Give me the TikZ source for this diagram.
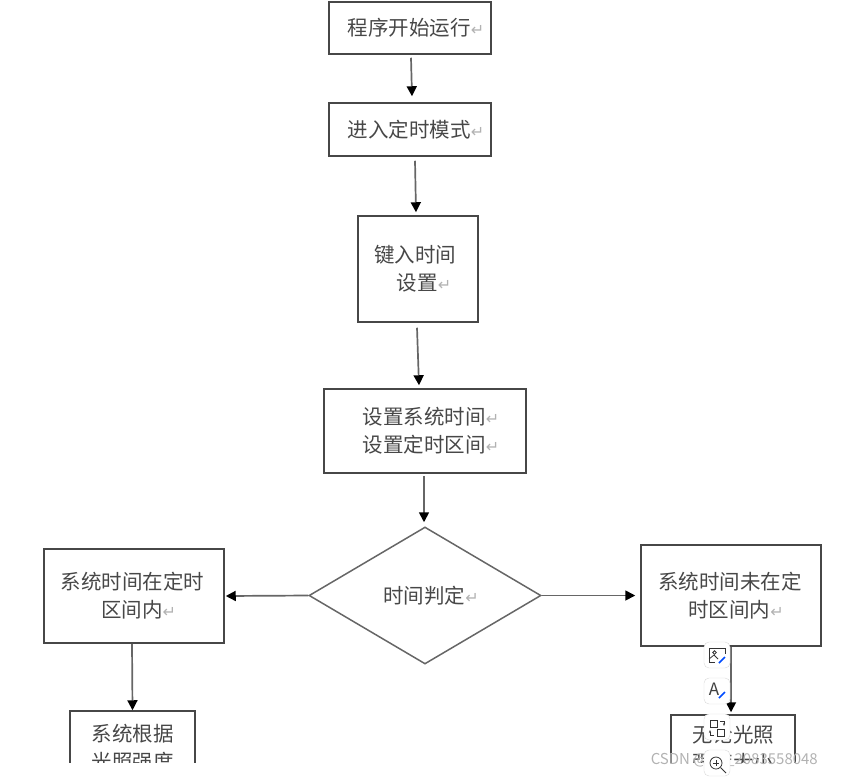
\documentclass[tikz,border=0pt]{standalone}
\usepackage{fontspec}
\setmainfont{Noto Sans CJK SC}
\newfontfamily\retfont{DejaVu Sans}
\usetikzlibrary{shapes.geometric,arrows.meta}
\newcommand{\ret}{{\retfont\fontsize{16}{16}\selectfont\textcolor{black!30}{↵}}}
\tikzset{
	box/.style={draw=black!72,line width=1.5pt,inner sep=0pt,align=center,text=black!72,font=\fontsize{20.5}{28}\selectfont},
	judgebox/.style={box,diamond,draw=black!60,aspect=1.7},
	flow/.style={draw=black!60,line width=1.7pt,-{Triangle[length=10pt,width=10pt,black]}},
	toolbtn/.style={draw=black!15,fill=white,rounded corners=5pt,minimum size=26pt,inner sep=0pt},
	toolicon/.style={draw=black!80,line width=0.8pt},
	pen/.style={draw=blue!70!cyan,line width=1.5pt}
}
\begin{document}
\begin{tikzpicture}[x=1pt,y=-1pt]
	\useasboundingbox (0,0) rectangle (843,777);
	\begin{scope}
	\clip (0,0) rectangle (843,762);
	\node[box,minimum width=162pt,minimum height=52pt] (start) at (410,28) {\hspace{12pt}程序开始运行\ret};
	\node[box,minimum width=162pt,minimum height=53pt] (mode) at (410,129.5) {\hspace{12pt}进入定时模式\ret};
	\node[box,minimum width=120pt,minimum height=106pt] (input) at (418,269) {\hspace{-6pt}键入时间\\\hspace{12pt}设置\ret};
	\node[box,minimum width=202pt,minimum height=84pt] (set) at (425,431) {\hspace{12pt}设置系统时间\ret\\\hspace{12pt}设置定时区间\ret};
	\node[judgebox,minimum width=232pt,minimum height=137pt] (judge) at (425,595.5) {\hspace{12pt}时间判定\ret};
	\node[box,minimum width=180pt,minimum height=94pt] (inside) at (134,596) {\hspace{-3pt}系统时间在定时\\\hspace{9pt}区间内\ret};
	\node[box,minimum width=180pt,minimum height=101pt] (outside) at (731,595.5) {\hspace{-2pt}系统时间未在定\\\hspace{10pt}时区间内\ret};
	\node[box,minimum width=125pt,minimum height=128pt] (light) at (132.5,775) {系统根据\\光照强度\\\\};
	\node[box,minimum width=124pt,minimum height=122pt] (nolight) at (733,776) {无论光照\\强度大小\\\\};
	\end{scope}

	\draw[flow] ([xshift=1pt,yshift=-3pt]start.south) -- ([xshift=2pt,yshift=6pt]mode.north);
	\draw[flow] ([xshift=5pt,yshift=-4pt]mode.south) -- ([xshift=-2pt,yshift=3pt]input.north);
	\draw[flow] ([xshift=-1pt,yshift=-5pt]input.south) -- ([xshift=-6pt,yshift=3pt]set.north);
	\draw[flow] ([xshift=-1pt,yshift=-2pt]set.south) -- ([xshift=-1pt,yshift=4pt]judge.north);
	\draw[flow] (judge.west) -- ([xshift=1pt]inside.east);
	\draw[flow] (judge.east) -- ([xshift=-5pt]outside.west);
	\draw[flow] ([xshift=-2pt]inside.south) -- (light.north);
	\draw[flow] (outside.south) -- ([xshift=-2pt,yshift=2pt]nolight.north);

	% viewer buttons on top of the picture
	\node[font=\fontsize{15}{15}\selectfont,text=black!30,inner sep=0pt,anchor=east] (mark) at (818,761) {CSDN @qq\_2083558048};
	\node[toolbtn] (btnimg) at (717,655) {};
	\node[toolbtn] (btntext) at (717,691) {};
	\node[toolbtn] (btnswap) at (717,727) {};
	\node[toolbtn] (btnzoom) at (717,763) {};
	% image button
	\draw[toolicon] (725,648) -- (709,648) -- (709,662) -- (715,662);
	\draw[toolicon] (725,648) -- (725,654);
	\draw[toolicon] (714.5,652.5) circle (1.8);
	\draw[toolicon] (709,659) -- (714,655) -- (718,659);
	\draw[pen] (719,663) -- (725,657);
	% text button
	\node[font=\fontsize{17}{17}\selectfont,text=black!75,inner sep=0pt] (btntextA) at (714,689) {A};
	\draw[pen] (719,698) -- (725,692);
	% swap button
	\draw[toolicon] (710,720) rectangle (717,727);
	\draw[toolicon] (717,729) rectangle (724,736);
	\draw[toolicon,-{Stealth[length=3pt]}] (720,721) -- (724,721) -- (724,726);
	\draw[toolicon,-{Stealth[length=3pt]}] (714,735) -- (710,735) -- (710,730);
	% zoom button
	\draw[toolicon] (716,763) circle (6);
	\draw[toolicon] (713,763) -- (719,763) (716,760) -- (716,766);
	\draw[toolicon] (720.5,767.5) -- (726,773);
\end{tikzpicture}
\end{document}
